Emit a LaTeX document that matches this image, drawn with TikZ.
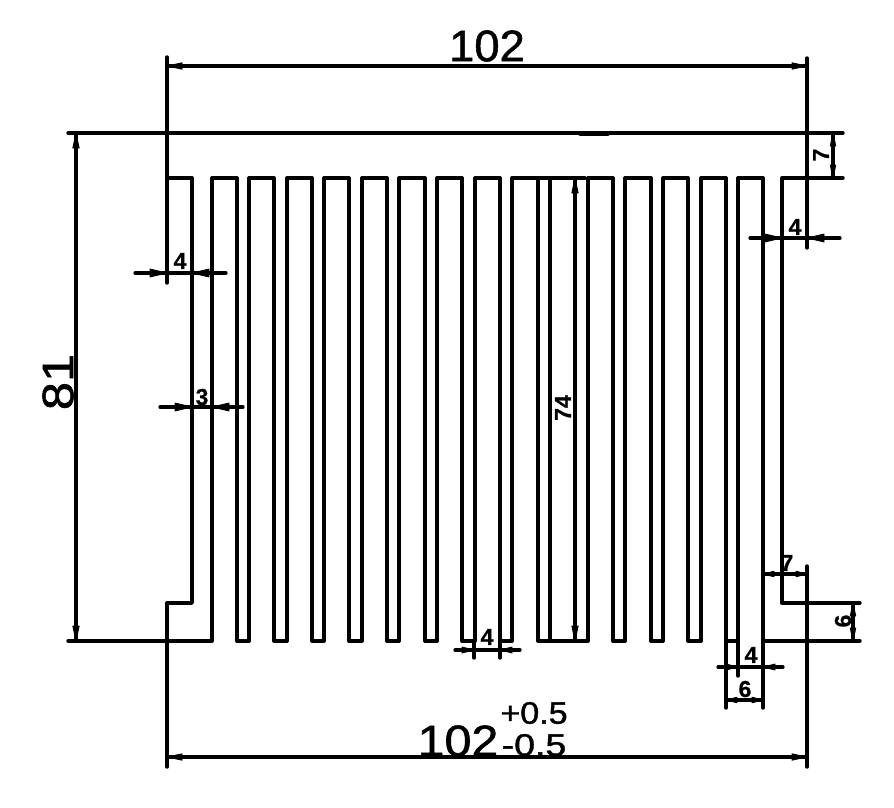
\documentclass[tikz,border=0pt]{standalone}
\usepackage{fontspec}
\setmainfont{Liberation Sans}
\newfontfamily\heavyfont[FakeBold=1.2]{Liberation Sans}
\newfontfamily\smallfont[BoldFont={Liberation Sans Bold},FakeBold=0.8]{Liberation Sans Bold}
\tikzset{
  part/.style={line width=3.4pt,line join=round,line cap=round,black},
  dimline/.style={line width=3.2pt,line cap=round,black},
  smalltxt/.style={font=\fontsize{23}{23}\selectfont\smallfont,inner sep=0pt},
  bigtxt/.style={font=\fontsize{44}{44}\selectfont\heavyfont,inner sep=0pt},
  midtxt/.style={font=\fontsize{31}{31}\selectfont\heavyfont,inner sep=0pt,xscale=1.1},
  tipshape/.style={fill=black,draw=black,line width=0.8pt,line join=round},
}
% tip at (#1,#2), direction vector (#3,#4), length #5, half width #6
\newcommand{\mytip}[6]{%
  \fill[tipshape] (#1,#2) -- ({#1-(#3)*(#5)-(#4)*(#6)},{#2-(#4)*(#5)+(#3)*(#6)})
    -- ({#1-(#3)*(#5)+(#4)*(#6)},{#2-(#4)*(#5)-(#3)*(#6)}) -- cycle;}
\begin{document}
\begin{tikzpicture}[x=1pt,y=-1pt]
\useasboundingbox (0,0) rectangle (894,808);
% top caps of the fins
\foreach \a/\b in {167/192,212/237,249/274,287/312,324/349,362/387,399/425,437/462,475/500,512/538,550/575,588/613,625/651,663/688,701/726,738/763,782/807}
  \draw[part] (\a,178) -- (\b,178);
% bottoms of the slots
\foreach \a/\b in {237/249,274/287,312/324,349/362,387/399,425/437,462/475,500/512,538/588,613/625,651/663,688/701,726/738}
  \draw[part] (\a,641) -- (\b,641);
% fin walls
\foreach \a in {212,237,249,274,287,312,324,349,362,387,399,425,437,462,475,500,512,538,550,588,613,625,651,663,688,701,726,738,763}
  \draw[part] (\a,178) -- (\a,641);
% stepped side walls
\draw[part] (192,178) -- (192,603) -- (167,603) -- (167,641) -- (212,641);
\draw[part] (782,178) -- (782,603) -- (807,603) -- (807,641) -- (763,641);
% datum and extension lines
\draw[part] (68,133) -- (843,133);
\draw[part] (580,134) -- (608,134);
\draw[part] (68,641) -- (167,641);
\draw[part] (807,178) -- (843,178);
\draw[part] (528,178) -- (585,178);
\draw[part] (807,603) -- (860,603);
\draw[part] (807,641) -- (860,641);
\draw[part] (167,57) -- (167,283);
\draw[part] (167,603) -- (167,767);
\draw[part] (807,58) -- (807,248);
\draw[part] (807,566) -- (807,767);
\draw[part] (474,641) -- (474,658);
\draw[part] (500,641) -- (500,658);
\draw[part] (726,641) -- (726,708);
\draw[part] (738,641) -- (738,676);
\draw[part] (763,641) -- (763,708);
% dimension lines
\draw[dimline] (167,66) -- (807,66);
\draw[dimline] (167,757) -- (807,757);
\draw[dimline] (76,133) -- (76,641);
\draw[dimline] (575,178) -- (575,641);
\draw[dimline] (833,133) -- (833,178);
\draw[dimline] (853,603) -- (853,641);
\draw[dimline] (763,574) -- (807,574);
\draw[dimline] (726,700) -- (763,700);
\draw[dimline] (135,273) -- (226,273);
\draw[dimline] (160,407) -- (243,407);
\draw[dimline] (750,238) -- (840,238);
\draw[dimline] (455,650) -- (520,650);
\draw[dimline] (718,667) -- (783,667);
% arrowheads
\mytip{167}{66}{-1}{0}{15}{3.2}\mytip{807}{66}{1}{0}{15}{3.2}
\mytip{167}{757}{-1}{0}{15}{3.2}\mytip{807}{757}{1}{0}{15}{3.2}
\mytip{76}{133}{0}{-1}{15}{3.2}\mytip{76}{641}{0}{1}{15}{3.2}
\mytip{575}{178}{0}{-1}{15}{3.2}\mytip{575}{641}{0}{1}{15}{3.2}
\mytip{833}{133}{0}{-1}{13}{2.8}\mytip{833}{178}{0}{1}{13}{2.8}
\mytip{853}{603}{0}{-1}{13}{2.8}\mytip{853}{641}{0}{1}{13}{2.8}
\mytip{763}{574}{-1}{0}{11}{2.8}\mytip{807}{574}{1}{0}{11}{2.8}
\mytip{726}{700}{-1}{0}{11}{2.8}\mytip{763}{700}{1}{0}{11}{2.8}
\mytip{167}{273}{1}{0}{17}{4}\mytip{192}{273}{-1}{0}{17}{4}
\mytip{192}{407}{1}{0}{17}{4}\mytip{212}{407}{-1}{0}{17}{4}
\mytip{782}{238}{1}{0}{17}{4}\mytip{807}{238}{-1}{0}{17}{4}
\mytip{474}{650}{1}{0}{12}{3}\mytip{500}{650}{-1}{0}{12}{3}
\mytip{738}{667}{1}{0}{12}{3}\mytip{763}{667}{-1}{0}{12}{3}
% labels
\node[bigtxt,xscale=1.03] (top) at (487,46) {102};
\node[bigtxt,rotate=90,xscale=1.15] (left) at (58,382) {81};
\node[bigtxt,xscale=1.1] (bot) at (458,741) {102};
\node[midtxt] (plus) at (534,713) {+0.5};
\node[midtxt,xscale=1.1] (minus) at (534,745) {-0.5};
\node[smalltxt] (a) at (180,261) {4};
\node[smalltxt] (b) at (202,397) {3};
\node[smalltxt] (c) at (795,227) {4};
\node[smalltxt,rotate=90] (d) at (821,155) {7};
\node[smalltxt,rotate=90] (e) at (563,408) {74};
\node[smalltxt] (f) at (487,637) {4};
\node[smalltxt] (g) at (751,655) {4};
\node[smalltxt] (h) at (745,689) {6};
\node[smalltxt] (i) at (787,563) {7};
\node[smalltxt,rotate=90] (j) at (843,621) {6};
\end{tikzpicture}
\end{document}
